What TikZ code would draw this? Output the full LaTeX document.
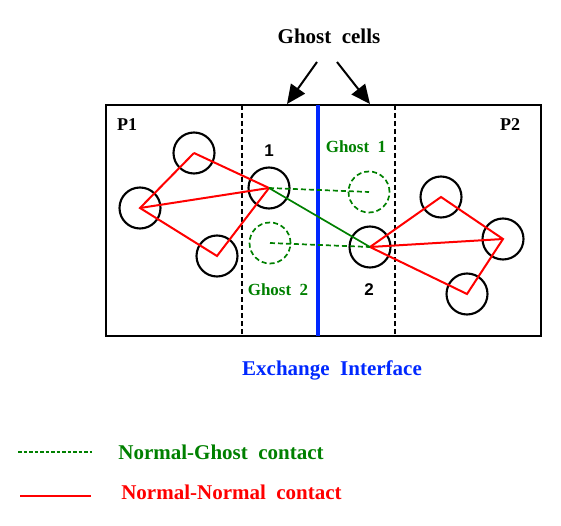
\documentclass[tikz,border=0pt]{standalone}
\usepackage{fontspec}
\setmainfont{Liberation Serif}
\newfontfamily\numfont{Liberation Sans}
\usetikzlibrary{arrows.meta}
\definecolor{ggreen}{RGB}{0,128,0}
\definecolor{bblue}{RGB}{0,40,255}
\definecolor{rred}{RGB}{255,0,0}
\begin{document}
\begin{tikzpicture}[x=1pt,y=-1pt,
  particle/.style={circle,draw=black,line width=2.1pt,minimum size=41pt,inner sep=0pt},
  ghost/.style={circle,draw=ggreen,line width=1.7pt,dash pattern=on 5pt off 3pt,minimum size=41pt,inner sep=0pt},
  nn/.style={draw=rred,line width=2pt},
  ng/.style={draw=ggreen,line width=1.7pt,dash pattern=on 5pt off 3pt},
  lbl/.style={inner sep=0pt,anchor=base,font=\bfseries\fontsize{21}{24}\selectfont},
  glbl/.style={inner sep=0pt,anchor=base,text=ggreen,font=\bfseries\fontsize{17}{20}\selectfont},
  numlbl/.style={inner sep=0pt,anchor=base,font=\numfont\bfseries\fontsize{17}{20}\selectfont},
  plbl/.style={inner sep=0pt,anchor=base,font=\bfseries\fontsize{18}{21}\selectfont},
  arr/.style={line width=2pt,-{Triangle[length=19pt,width=17pt]}}
]
\useasboundingbox (0,0) rectangle (561,526);
% domain
\coordinate (bl) at (106,336);
\coordinate (tr) at (541,105);
\draw[line width=2.2pt] (bl) rectangle (tr);
\coordinate (d1t) at (242,105); \coordinate (d1b) at (242,336);
\coordinate (d2t) at (395,105); \coordinate (d2b) at (395,336);
\coordinate (it) at (318,105); \coordinate (ib) at (318,336);
\draw[line width=1.8pt,dash pattern=on 5pt off 3pt] (d1t) -- (d1b);
\draw[line width=1.8pt,dash pattern=on 5pt off 3pt] (d2t) -- (d2b);
\draw[line width=4pt,draw=bblue] (it) -- (ib);
% ghost cells label and arrows
\node[lbl] (gc) at (329,44) {Ghost\ \ cells};
\coordinate (a1s) at (317,62); \coordinate (a1e) at (287,104);
\coordinate (a2s) at (337,62); \coordinate (a2e) at (370,104);
\draw[arr] (a1s) -- (a1e);
\draw[arr] (a2s) -- (a2e);
% particles
\node[particle] (a) at (194,153) {};
\node[particle] (b) at (140,208) {};
\node[particle] (c) at (217,256) {};
\node[particle] (n1) at (269,188) {};
\node[ghost] (g2) at (270,243) {};
\node[ghost] (g1) at (369,192) {};
\node[particle] (n2) at (370,247) {};
\node[particle] (d) at (441,197) {};
\node[particle] (e) at (503,239) {};
\node[particle] (f) at (467,294) {};
% contacts
\draw[nn] (a.center) -- (b.center) -- (c.center) -- (n1.center) -- (a.center);
\draw[nn] (b.center) -- (n1.center);
\draw[nn] (n2.center) -- (d.center) -- (e.center) -- (f.center) -- (n2.center);
\draw[nn] (n2.center) -- (e.center);
\draw[ng] (n1.center) -- (g1.center);
\draw[ng] (g2.center) -- (n2.center);
\draw[draw=ggreen,line width=1.7pt] (n1.center) -- (n2.center);
% labels
\node[plbl] (p1) at (127,131) {P1};
\node[plbl] (p2) at (510,131) {P2};
\node[numlbl] (l1) at (269,157) {1};
\node[numlbl] (l2) at (369,295) {2};
\node[glbl] (lg1) at (356,153) {Ghost\ \ 1};
\node[glbl] (lg2) at (278,295) {Ghost\ \ 2};
\node[lbl,text=bblue] (ex) at (332,375) {Exchange\ \ Interface};
% legend
\coordinate (l1s) at (18,452); \coordinate (l1e) at (92,452);
\coordinate (l2s) at (20,496); \coordinate (l2e) at (91,496);
\draw[draw=ggreen,line width=1.5pt,dash pattern=on 3.5pt off 2pt] (l1s) -- (l1e);
\draw[draw=rred,line width=2.2pt] (l2s) -- (l2e);
\node[lbl,text=ggreen] (t1) at (221,459) {Normal-Ghost\ \ contact};
\node[lbl,text=rred] (t2) at (231.5,499) {Normal-Normal\ \ contact};
\end{tikzpicture}
\end{document}
